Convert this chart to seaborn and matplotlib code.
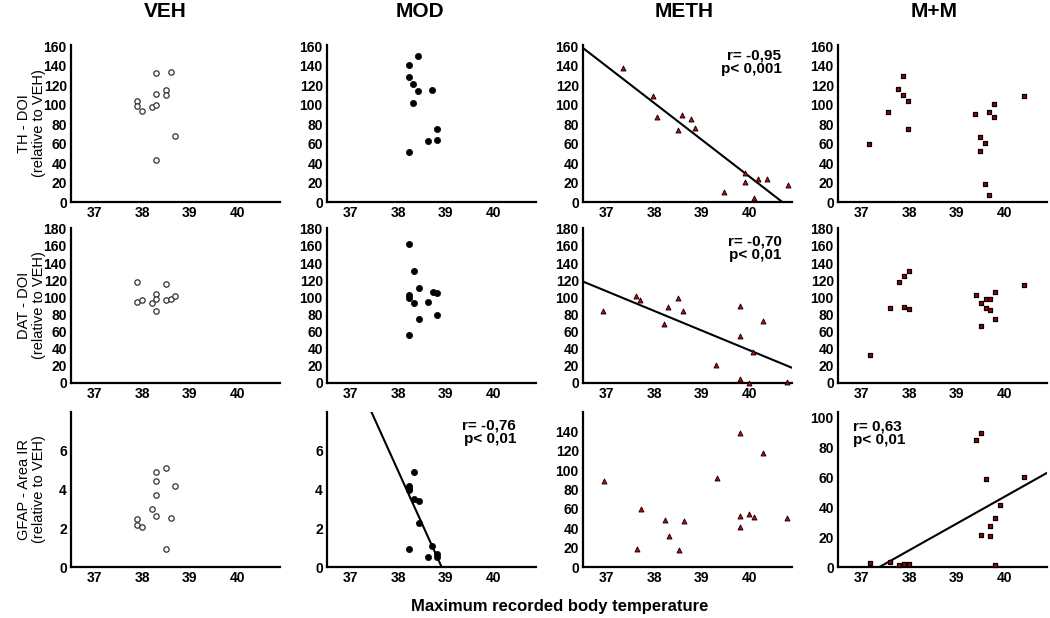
import matplotlib
matplotlib.use('Agg')
import matplotlib.pyplot as plt
import seaborn as sns

GROUPS = ['VEH', 'MOD', 'METH', 'M+M']
ROW_LABELS = ['TH - DOI\n(relative to VEH)',
              'DAT - DOI\n(relative to VEH)',
              'GFAP - Area IR\n(relative to VEH)']
X_LABEL = 'Maximum recorded body temperature'
X_TICKS = [37, 38, 39, 40]

# ---- TH - DOI ----
veh_th_x = [37.9, 37.9, 38.0, 38.2, 38.3, 38.3, 38.3, 38.5, 38.5, 38.6, 38.7, 38.3]
veh_th_y = [103.2, 98.1, 93.7, 97.8, 99.8, 110.8, 132.6, 114.9, 109.4, 133.3, 67.4, 43.4]
mod_th_x = [38.22, 38.42, 38.22, 38.32, 38.42, 38.72, 38.32, 38.81, 38.81, 38.62, 38.22]
mod_th_y = [140.9, 150.1, 127.9, 120.7, 113.5, 114.9, 101.9, 74.5, 63.9, 62.6, 51.6]
meth_th_x = [37.34, 37.97, 38.05, 38.5, 38.59, 38.77, 38.86, 39.48, 39.92, 39.92, 40.1, 40.19, 40.37, 40.81]
meth_th_y = [137.0, 108.6, 86.8, 74.3, 88.9, 85.4, 76.0, 10.7, 29.7, 21.0, 3.7, 23.5, 23.5, 17.6]
mm_th_x = [37.16, 37.56, 37.77, 37.87, 37.87, 37.97, 37.97, 39.39, 39.49, 39.59, 39.49,
           39.69, 39.79, 39.79, 39.59, 39.69, 40.41]
mm_th_y = [59.1, 92.6, 116.2, 128.9, 109.7, 103.9, 75.2, 90.3, 66.7, 60.9, 52.0,
           92.0, 100.9, 87.5, 18.8, 7.5, 108.7]

# ---- DAT - DOI ----
veh_dat_x = [37.9, 37.9, 38.0, 38.2, 38.3, 38.3, 38.3, 38.5, 38.5, 38.6, 38.7]
veh_dat_y = [118.2, 94.9, 97.2, 92.9, 103.8, 98.0, 83.6, 115.9, 96.4, 98.0, 101.9]
mod_dat_x = [38.23, 38.33, 38.43, 38.23, 38.23, 38.33, 38.63, 38.73, 38.82, 38.82, 38.43, 38.23]
mod_dat_y = [162.5, 131.0, 111.2, 102.3, 99.1, 92.9, 94.5, 106.1, 104.6, 78.9, 74.6, 55.6]
meth_dat_x = [36.92, 37.61, 37.71, 38.21, 38.3, 38.5, 38.6, 39.3, 39.8, 39.8, 39.8, 39.99,
              40.08, 40.29, 40.79]
meth_dat_y = [84.0, 101.9, 97.2, 68.4, 88.6, 98.8, 83.6, 20.6, 89.4, 55.2, 5.1, 0.4,
              36.2, 72.3, 1.2]
mm_dat_x = [37.18, 37.59, 37.79, 37.89, 37.99, 37.89, 37.99, 39.41, 39.51, 39.61, 39.71,
            39.61, 39.71, 39.81, 39.81, 39.51, 40.42]
mm_dat_y = [33.0, 87.5, 117.4, 124.4, 130.6, 88.3, 86.7, 102.3, 93.7, 98.0, 97.6,
            87.5, 85.5, 106.1, 74.6, 66.1, 113.9]

# ---- GFAP - Area IR ----
veh_gfap_x = [37.9, 37.9, 38.0, 38.2, 38.3, 38.3, 38.3, 38.3, 38.5, 38.7, 38.6, 38.5]
veh_gfap_y = [2.47, 2.18, 2.06, 2.99, 2.63, 3.73, 4.45, 4.91, 5.10, 4.18, 2.53, 0.95]
mod_gfap_x = [38.33, 38.23, 38.23, 38.23, 38.33, 38.43, 38.43, 38.23, 38.62, 38.72, 38.82, 38.82]
mod_gfap_y = [4.88, 4.19, 4.09, 3.99, 3.50, 3.42, 2.27, 0.91, 0.52, 1.08, 0.69, 0.52]
meth_gfap_x = [36.94, 37.63, 37.73, 38.22, 38.32, 38.52, 38.62, 39.32, 39.8, 39.8, 39.8,
               40.0, 40.1, 40.3, 40.8]
meth_gfap_y = [88.8, 18.6, 59.9, 48.5, 32.0, 17.5, 47.1, 91.5, 138.3, 53.0, 40.9,
               55.0, 51.9, 117.6, 50.6]
mm_gfap_x = [37.18, 37.59, 37.79, 37.89, 37.99, 39.41, 39.51, 39.61, 39.51, 39.71, 39.71,
             39.81, 39.91, 39.81, 40.42]
mm_gfap_y = [2.95, 3.6, 1.6, 1.8, 1.8, 85.2, 90.2, 58.9, 21.4, 20.7, 27.5,
             33.2, 41.6, 1.4, 60.5]

PANELS = [
    [(veh_th_x, veh_th_y), (mod_th_x, mod_th_y), (meth_th_x, meth_th_y), (mm_th_x, mm_th_y)],
    [(veh_dat_x, veh_dat_y), (mod_dat_x, mod_dat_y), (meth_dat_x, meth_dat_y), (mm_dat_x, mm_dat_y)],
    [(veh_gfap_x, veh_gfap_y), (mod_gfap_x, mod_gfap_y), (meth_gfap_x, meth_gfap_y), (mm_gfap_x, mm_gfap_y)],
]

# correlation annotations (panels with a fitted line)
STATS = {
    (0, 2): 'r= -0,95\np< 0,001',
    (1, 2): 'r= -0,70\np< 0,01',
    (2, 1): 'r= -0,76\np< 0,01',
    (2, 3): 'r= 0,63\np< 0,01',
}

# y axis per panel
Y_TICKS = [
    [list(range(0, 161, 20))] * 4,
    [list(range(0, 181, 20))] * 4,
    [[0, 2, 4, 6], [0, 2, 4, 6], list(range(0, 141, 20)), list(range(0, 101, 20))],
]
Y_LIMS = [
    [(0, 161)] * 4,
    [(0, 181)] * 4,
    [(0, 8), (0, 8), (0, 160), (0, 104)],
]

MARKERS = {
    'VEH': dict(marker='o', s=15, color='white', edgecolor='#333333', linewidth=0.9),
    'MOD': dict(marker='o', s=20, color='black', edgecolor='black', linewidth=0.5),
    'METH': dict(marker='^', s=13, color='#d40000', edgecolor='black', linewidth=0.6),
    'M+M': dict(marker='s', s=8, color='#a00000', edgecolor='black', linewidth=0.9),
}

# layout in figure fractions
LEFTS = [0.0676, 0.3114, 0.5552, 0.7981]
WIDTH = 0.199
BOTTOMS = [0.6731, 0.3803, 0.0825]
HEIGHTS = [0.254, 0.2508, 0.2508]
TITLE_X = [0.157, 0.400, 0.652, 0.890]
STAT_POS = {(0, 2): (0.95, 0.975, 'right'), (1, 2): (0.95, 0.955, 'right'),
            (2, 1): (0.905, 0.96, 'right'), (2, 3): (0.07, 0.95, 'left')}

sns.set_style('white')
plt.rcParams['font.family'] = ['Liberation Sans', 'DejaVu Sans']
plt.rcParams['font.weight'] = 'bold'
for key in ['text.color', 'axes.labelcolor', 'xtick.color', 'ytick.color']:
    plt.rcParams[key] = 'black'

fig = plt.figure(figsize=(10.5, 6.18), dpi=100)

for r in range(3):
    for c, grp in enumerate(GROUPS):
        ax = fig.add_axes([LEFTS[c], BOTTOMS[r], WIDTH, HEIGHTS[r]])
        xs, ys = PANELS[r][c]
        ax.set_xlim(36.5, 40.9)
        ax.set_ylim(*Y_LIMS[r][c])
        if (r, c) in STATS:
            sns.regplot(x=xs, y=ys, ax=ax, scatter=False, ci=None, truncate=False,
                        line_kws={'color': 'black', 'lw': 1.5})
        sns.scatterplot(x=xs, y=ys, ax=ax, zorder=3, clip_on=False, **MARKERS[grp])
        ax.set_xlim(36.5, 40.9)
        ax.set_ylim(*Y_LIMS[r][c])
        ax.set_xticks(X_TICKS)
        ax.set_yticks(Y_TICKS[r][c])
        ax.tick_params(length=0, labelsize=10, pad=3, colors='black')
        for lbl in ax.get_xticklabels() + ax.get_yticklabels():
            lbl.set_fontweight('bold')
        sns.despine(ax=ax)
        for side in ['left', 'bottom']:
            ax.spines[side].set_linewidth(1.6)
            ax.spines[side].set_color('black')
        if (r, c) in STATS:
            px, py, ha = STAT_POS[(r, c)]
            ax.text(px, py, STATS[(r, c)], transform=ax.transAxes, ha=ha, va='top',
                    fontsize=11, fontweight='bold', linespacing=0.95, color='black')
    # row label
    fig.text(0.03, BOTTOMS[r] + HEIGHTS[r] / 2, ROW_LABELS[r], rotation=90,
             ha='center', va='center', fontsize=10.5, fontweight='normal',
             multialignment='center', linespacing=1.0, color='black')

for c, grp in enumerate(GROUPS):
    fig.text(TITLE_X[c], 0.981, grp, ha='center', va='center', fontsize=15,
             fontweight='bold', color='black')

fig.text(0.533, 0.019, X_LABEL, ha='center', va='center', fontsize=12,
         fontweight='bold', color='black')

fig.savefig('out.png', dpi=100)
